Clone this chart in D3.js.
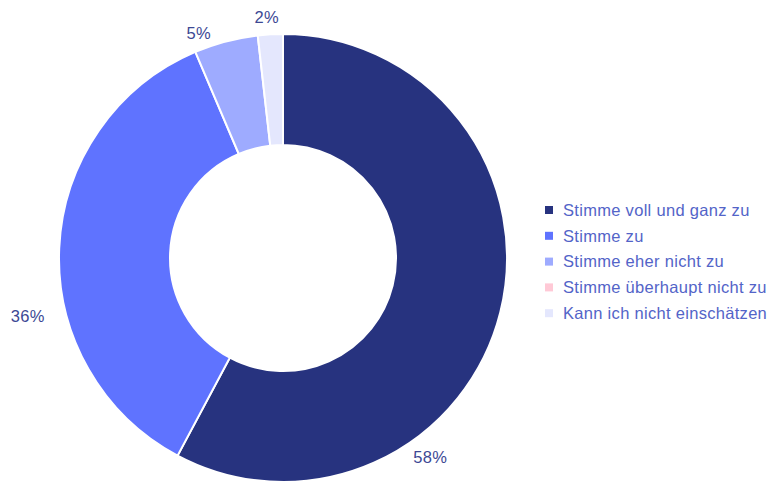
<!DOCTYPE html>
<html>
<head>
<meta charset="utf-8">
<script src="https://cdn.jsdelivr.net/npm/d3@7"></script>
<style>
body{margin:0;background:#fff;}
text{font-family:"Liberation Sans",Arial,sans-serif;}
</style>
</head>
<body>
<div id="chart"></div>
<script>
var categories=["Stimme voll und ganz zu","Stimme zu","Stimme eher nicht zu","Stimme überhaupt nicht zu","Kann ich nicht einschätzen"];
var values=[57.8,35.8,4.6,0,1.8];
var colors=["#27337f","#5f73ff","#9eabff","#ffc9d6","#e4e7fd"];
var wide=770;
var high=482;
var cx=283;
var cy=258;
var outer=224;
var inner=113;
var svg=d3
  .select("#chart")
  .append("svg")
  .attr("width",wide)
  .attr("height",high);
var data=categories.map(function(c,i){
  return {name:c,value:values[i],color:colors[i]};
});
var pie=d3.pie()
  .sort(null)
  .value(function(d){return d.value;});
var arc=d3.arc()
  .innerRadius(inner)
  .outerRadius(outer);
var arcs=pie(data);
var g=svg.append("g").attr("transform","translate("+cx+","+cy+")");
g.selectAll("path")
  .data(arcs.filter(function(d){return d.data.value>0;}))
  .enter()
  .append("path")
  .attr("d",arc)
  .attr("fill",function(d){return d.data.color;})
  .attr("stroke","#fff")
  .attr("stroke-width",2);
// label placement: fraction along each slice and distance from center
var labelPos=[[0.69,248],[0.38,262],[0.15,240],[0.5,240],[0.4,241]];
g.selectAll("text.lbl")
  .data(arcs)
  .enter()
  .filter(function(d){return d.data.value>0;})
  .append("text")
  .attr("class","lbl")
  .attr("text-anchor","middle")
  .attr("dy","0.35em")
  .attr("font-size",16.5)
  .attr("letter-spacing",0.3)
  .attr("fill","#3c4894")
  .attr("x",function(d){
    var p=labelPos[d.index];
    var a=d.startAngle+(d.endAngle-d.startAngle)*p[0];
    return Math.sin(a)*p[1];
  })
  .attr("y",function(d){
    var p=labelPos[d.index];
    var a=d.startAngle+(d.endAngle-d.startAngle)*p[0];
    return -Math.cos(a)*p[1];
  })
  .text(function(d){return Math.round(d.data.value)+"%";});
var legend=svg.append("g").attr("transform","translate(545,210)");
var rows=legend.selectAll("g")
  .data(data)
  .enter()
  .append("g")
  .attr("transform",function(d,i){return "translate(0,"+(i*25.8)+")";});
rows.append("rect")
  .attr("x",0)
  .attr("y",-4)
  .attr("width",8)
  .attr("height",8)
  .attr("fill",function(d){return d.color;});
rows.append("text")
  .attr("x",18)
  .attr("dy","0.35em")
  .attr("font-size",16.5)
  .attr("letter-spacing",0.3)
  .attr("fill","#5364c8")
  .text(function(d){return d.name;});
</script>
</body>
</html>
